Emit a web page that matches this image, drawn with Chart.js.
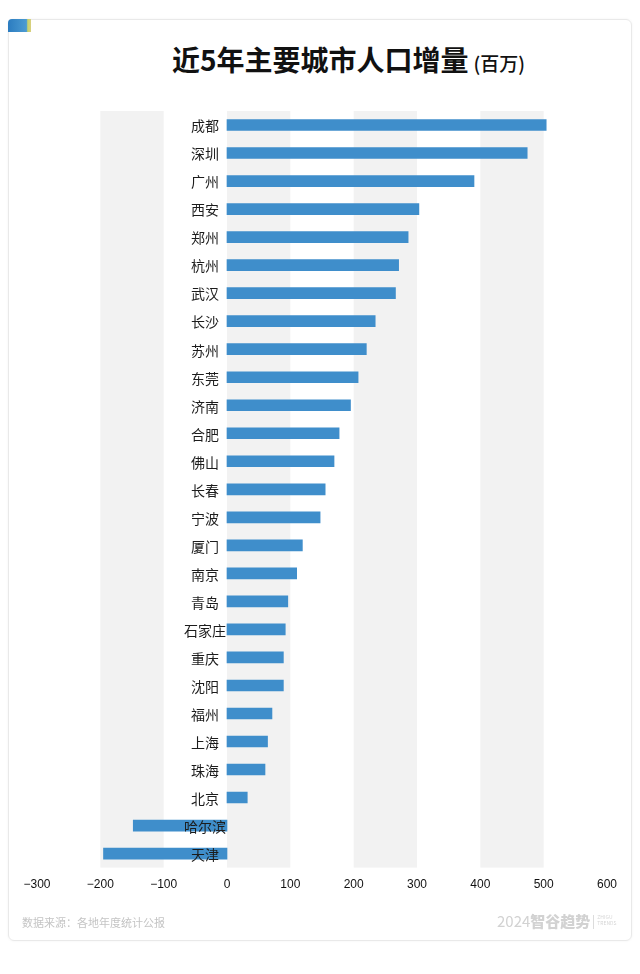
<!DOCTYPE html>
<html>
<head>
<meta charset="utf-8">
<script src="https://cdn.jsdelivr.net/npm/chart.js@4/dist/chart.umd.min.js"></script>
<style>
  html, body { margin: 0; padding: 0; background: #ffffff; }
  body { width: 640px; height: 974px; position: relative; overflow: hidden;
         font-family: "Noto Sans CJK SC", "Noto Sans", sans-serif; }
  #card { position: absolute; left: 8px; top: 19px; width: 622px; height: 920px;
          border: 1px solid #e9e9e9; border-radius: 6px; box-shadow: 0 0 3px rgba(0,0,0,0.05); }
  #logo { position: absolute; left: 8px; top: 19px; width: 23px; height: 13px; border-top-left-radius: 4px;
          background: linear-gradient(90deg, #2b7cc0 0%, #4c9bd2 80%, #c9d26a 86%, #d9d080 100%); }
  #title { position: absolute; left: 172px; top: 39px; white-space: nowrap; color: #111;
           font-size: 28px; font-weight: 700; line-height: 40px; letter-spacing: 0px; }
  #title span { font-size: 19px; font-weight: 500; margin-left: 5px; }
  #chartwrap { position: absolute; left: 0; top: 0; width: 640px; height: 974px; }
  #source { position: absolute; left: 22px; top: 914px; font-size: 11px; color: #c4c4c4; white-space: nowrap; }
  #brand { position: absolute; left: 497px; top: 910px; white-space: nowrap; color: #d2d2d2; font-size: 15px; }
  #brand b { font-weight: 800; letter-spacing: 0px; }
  #brand i { display: inline-block; width: 1px; height: 14px; background: #dcdcdc; vertical-align: -2px; margin: 0 3px; }
  #brand small { font-size: 5px; display: inline-block; line-height: 6px; vertical-align: 2px; color: #d6d6d6; }
</style>
</head>
<body>
<div id="card"></div>
<div id="logo"></div>
<div id="title">近5年主要城市人口增量<span>(百万)</span></div>
<div id="chartwrap"><canvas id="c" width="640" height="974"></canvas></div>
<div id="source">数据来源：各地年度统计公报</div>
<div id="brand">2024<b>智谷趋势</b><i></i><small>ZHIGU<br>TRENDS</small></div>
<script>
// ---- data ----
const cities = ["成都","深圳","广州","西安","郑州","杭州","武汉","长沙","苏州","东莞","济南","合肥","佛山","长春","宁波","厦门","南京","青岛","石家庄","重庆","沈阳","福州","上海","珠海","北京","哈尔滨","天津"];
const increase = [504,474,390,303,286,271,266,234,220,207,195,177,169,155,147,119,110,96,92,89,89,71,64,60,32,-148,-195];
const xTickMin = -300;
const xTickMax = 600;
const xTickStep = 100;

const bandPlugin = {
  id: 'bands',
  beforeDatasetsDraw(chart) {
    const {ctx, chartArea, scales} = chart;
    const xs = scales.x;
    ctx.save();
    ctx.fillStyle = '#f2f2f2';
    xs.ticks.forEach(t => {
      const v = t.value;
      if (Math.round(v / xTickStep) % 2 === 0 && v + xTickStep <= xTickMax) {
        const a = xs.getPixelForValue(v);
        const b = xs.getPixelForValue(v + xTickStep);
        ctx.fillRect(a, chartArea.top, b - a, chartArea.bottom - chartArea.top);
      }
    });
    ctx.restore();
  }
};

const labelPlugin = {
  id: 'catLabels',
  afterDatasetsDraw(chart) {
    const {ctx, scales} = chart;
    const xs = scales.x, ys = scales.y;
    const cx = xs.getPixelForValue(0) - 22;
    ctx.save();
    ctx.font = '14px "Noto Sans CJK SC", sans-serif';
    ctx.fillStyle = '#1c1c1c';
    ctx.textAlign = 'center';
    ctx.textBaseline = 'middle';
    chart.data.labels.forEach((lab, i) => {
      ctx.fillText(lab, cx, ys.getPixelForValue(i) + 1);
    });
    ctx.restore();
  }
};

new Chart(document.getElementById('c'), {
  type: 'bar',
  data: {
    labels: cities,
    datasets: [{
      data: increase,
      backgroundColor: '#3f8ecb',
      borderWidth: 0,
      barThickness: 11
    }]
  },
  options: {
    indexAxis: 'y',
    responsive: false,
    animation: false,
    layout: { padding: { left: 37, right: 33, top: 111, bottom: 72 } },
    plugins: { legend: { display: false }, tooltip: { enabled: false } },
    scales: {
      x: {
        type: 'linear',
        min: xTickMin, max: xTickMax,
        grid: { display: false, drawTicks: false },
        border: { display: false },
        ticks: {
          stepSize: xTickStep,
          padding: 10,
          color: '#111',
          font: { size: 12, family: '"Liberation Sans", Arial, sans-serif' },
          callback: v => (v < 0 ? '\u2212' + Math.abs(v) : String(v))
        }
      },
      y: {
        type: 'category',
        display: false,
        grid: { display: false },
        border: { display: false }
      }
    }
  },
  plugins: [bandPlugin, labelPlugin]
});
</script>
</body>
</html>
